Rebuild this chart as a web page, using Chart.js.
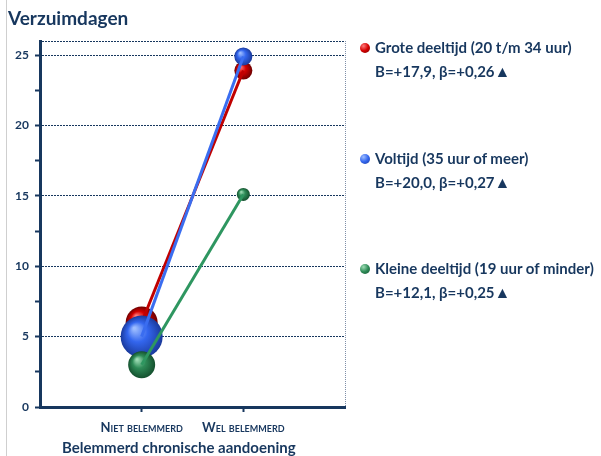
<!DOCTYPE html>
<html>
<head>
<meta charset="utf-8">
<script src="https://cdn.jsdelivr.net/npm/chart.js@4"></script>
<style>
  body { margin: 0; background: #fff; }
  #wrap { position: relative; width: 601px; height: 456px; overflow: hidden; font-family: Lato, "Open Sans", sans-serif; color: #17375e; }
  #rule { position: absolute; left: 6px; top: 0; width: 1px; height: 456px; background: #cfcfcf; }
  #ytitle { position: absolute; left: 8px; top: 6px; font-weight: bold; font-size: 19px; }
  #xtitle { position: absolute; left: 62px; top: 438px; font-weight: bold; font-size: 15px; white-space: nowrap; }
  .leg { position: absolute; left: 360px; font-weight: bold; font-size: 15px; line-height: 24px; white-space: nowrap; }
  .leg .dot { display: inline-block; width: 10px; height: 10px; border-radius: 50%; margin-right: 5px; vertical-align: 0px; }
  .leg .sub { padding-left: 15px; }
  .leg .tri { font-size: 16px; }
</style>
</head>
<body>
<div id="wrap">
  <div id="rule"></div>
  <canvas id="chart" width="601" height="456"></canvas>
  <div id="ytitle">Verzuimdagen</div>
  <div id="xtitle">Belemmerd chronische aandoening</div>
  <div id="legend"></div>
</div>
<script>
// categorieën op de x-as
const categories = ['Niet belemmerd', 'Wel belemmerd'];

// verzuimdagen per groep
const groteDeeltijd = [6.0, 23.9];
const voltijd = [5.0, 24.9];
const kleineDeeltijd = [3.0, 15.1];

// legendateksten
const seriesNames = ['Grote deeltijd (20 t/m 34 uur)', 'Voltijd (35 uur of meer)', 'Kleine deeltijd (19 uur of minder)'];
const seriesStats = ['B=+17,9, \u03b2=+0,26', 'B=+20,0, \u03b2=+0,27', 'B=+12,1, \u03b2=+0,25'];

// as-ticks
const xTicks = [0, 1, 2, 3];
const yTicks = [0, 2.5, 5, 7.5, 10, 12.5, 15, 17.5, 20, 22.5, 25, 26];

const navy = '#17375e';

const series = [
  { data: groteDeeltijd, line: '#c00000', light: '#ff7a7a', mid: '#d40000', dark: '#6e0000', radius: [16, 9], legTop: 35 },
  { data: voltijd, line: '#3a6df0', light: '#9dbdff', mid: '#3366ee', dark: '#1a3a9c', radius: [21, 9], legTop: 146 },
  { data: kleineDeeltijd, line: '#2e9660', light: '#9ddcb4', mid: '#2e8b57', dark: '#14502e', radius: [13.5, 6.5], legTop: 256 }
];

// bol-effect via radiaal verloop
function sphere(s) {
  return function(ctx) {
    if (ctx.type !== 'data' || !ctx.parsed) return s.mid;
    const chart = ctx.chart;
    if (!chart.scales.x || !chart.scales.y) return s.mid;
    const px = chart.scales.x.getPixelForValue(ctx.parsed.x);
    const py = chart.scales.y.getPixelForValue(ctx.parsed.y);
    const r = s.radius[ctx.dataIndex];
    if (!isFinite(px) || !isFinite(py)) return s.mid;
    const g = chart.ctx.createRadialGradient(px - r * 0.35, py - r * 0.4, r * 0.05, px, py, r);
    g.addColorStop(0, s.light);
    g.addColorStop(0.45, s.mid);
    g.addColorStop(1, s.dark);
    return g;
  };
}

const datasets = [];
let order = series.length * 2;
series.forEach(function(s) {
  const pts = categories.map(function(c, i) { return { x: i + 1, y: s.data[i] }; });
  datasets.push({
    data: pts, showLine: false, order: order--,
    pointRadius: s.radius, pointBorderWidth: 0,
    pointBackgroundColor: sphere(s)
  });
  datasets.push({
    data: pts, showLine: true, order: order--,
    borderColor: s.line, borderWidth: 3, pointRadius: 0, tension: 0
  });
});

new Chart(document.getElementById('chart'), {
  type: 'line',
  data: { datasets: datasets },
  options: {
    responsive: false,
    animation: false,
    events: [],
    layout: { padding: { left: 0, top: 41, right: 256, bottom: 0 } },
    plugins: { legend: { display: false }, tooltip: { enabled: false } },
    scales: {
      x: {
        type: 'linear', min: 0, max: 3,
        afterBuildTicks: function(scale) { scale.ticks = xTicks.map(function(v) { return { value: v }; }); },
        afterFit: function(scale) { scale.height = 49; },
        border: { color: navy, width: 3, dash: [1, 1] },
        grid: {
          color: function(c) { return c.tick && c.tick.value === 3 ? '#7f8fa8' : 'transparent'; },
          tickColor: function(c) { return c.tick && (c.tick.value === 1 || c.tick.value === 2) ? navy : 'transparent'; },
          lineWidth: 1, tickWidth: 2, tickLength: 5
        },
        ticks: {
          autoSkip: false, maxRotation: 0, padding: 8, color: navy,
          font: { family: 'Lato', size: 13, weight: 'small-caps bold' },
          callback: function(v) { return categories[v - 1] || ''; }
        }
      },
      y: {
        min: 0, max: 26,
        afterBuildTicks: function(scale) { scale.ticks = yTicks.map(function(v) { return { value: v }; }); },
        afterFit: function(scale) { scale.width = 40; },
        border: { color: navy, width: 3, dash: [2, 1] },
        grid: {
          color: function(c) {
            const v = c.tick ? c.tick.value : 0;
            return (v > 0 && v % 5 === 0) || v === 26 ? navy : 'transparent';
          },
          tickColor: function(c) { return c.tick && c.tick.value === 26 ? 'transparent' : navy; },
          lineWidth: 1, tickWidth: 2, tickLength: 5
        },
        ticks: {
          padding: 6, color: navy,
          font: { family: 'Lato', size: 12, weight: 'bold' },
          callback: function(v) { return v % 5 === 0 && v <= 25 ? v : ''; }
        }
      }
    }
  }
});

// legenda rechts
const legend = document.getElementById('legend');
series.forEach(function(s, i) {
  const div = document.createElement('div');
  div.className = 'leg';
  div.style.top = s.legTop + 'px';
  div.innerHTML = '<span class="dot" style="background: radial-gradient(circle at 35% 30%, ' + s.light + ', ' + s.mid + ' 50%, ' + s.dark + ')"></span>' +
    seriesNames[i] + '<br><span class="sub">' + seriesStats[i] + '<span class="tri">\u25b2</span></span>';
  legend.appendChild(div);
});
</script>
</body>
</html>
